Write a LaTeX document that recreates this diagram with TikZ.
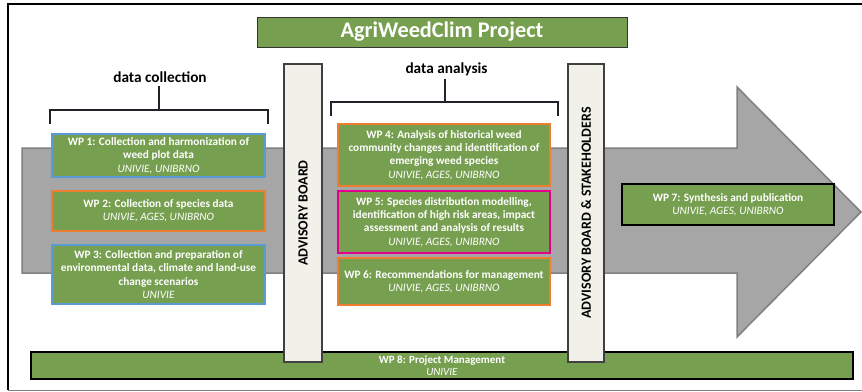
\documentclass[tikz,border=0pt]{standalone}
\usepackage{fontspec}
\setmainfont{Carlito}
\definecolor{wpgreen}{RGB}{119,159,80}
\definecolor{arrgray}{RGB}{166,166,166}
\definecolor{arredge}{RGB}{128,128,128}
\definecolor{wpblue}{RGB}{91,155,213}
\definecolor{wporange}{RGB}{237,125,49}
\definecolor{wpmag}{RGB}{226,0,140}
\definecolor{barfill}{RGB}{241,241,234}
\definecolor{baredge}{RGB}{64,64,64}
\definecolor{brk}{RGB}{34,34,40}
\tikzset{
  wpbox/.style={draw, line width=2.3pt, fill=wpgreen, text=white, inner sep=0pt, align=center,
    font=\fontsize{11.3}{13.3}\selectfont},
  barbox/.style={draw=baredge, line width=1.2pt, fill=barfill, inner sep=0pt, minimum width=38pt, minimum height=298pt},
  bartext/.style={rotate=90, font=\fontsize{14}{16}\selectfont\bfseries, text=black},
  bracket/.style={draw=brk, line width=2pt},
  headtext/.style={font=\fontsize{15.3}{17}\selectfont\bfseries, text=black}
}
\newcommand{\wpt}[2]{\textbf{#1}\\\textit{#2}}
\begin{document}
\begin{tikzpicture}[x=1pt,y=-1pt]
\useasboundingbox (0,0) rectangle (862,391);
% frame
\draw[black, line width=2.5pt] (862,4) -- (8,4) -- (8,390);
\draw[arredge, line width=1pt] (8,390) -- (862,390);
% big arrow
\draw[fill=arrgray, draw=arredge, line width=1.5pt, line join=miter]
  (22,148) -- (737,148) -- (737,87) -- (861,212) -- (737,337) -- (737,273) -- (22,273) -- cycle;
% title
\node[draw=black!80, line width=1pt, fill=wpgreen, text=white, minimum width=370pt, minimum height=30pt,
  inner sep=0pt, font=\fontsize{22.3}{24}\selectfont\bfseries] (title) at (442,32) {AgriWeedClim Project};
% headings
\node[headtext] (dc) at (160,77) {data collection};
\node[headtext] (da) at (446.5,69) {data analysis};
\coordinate (dcL) at (50,124);
\coordinate (dcR) at (268,124);
\coordinate (dcM) at (159,110);
\draw[bracket] (dcL) -- (50,110) -- (268,110) -- (dcR);
\draw[bracket] (dc.south -| dcM) -- (dcM);
\coordinate (daL) at (331,116);
\coordinate (daR) at (558,116);
\coordinate (daM) at (445,102);
\draw[bracket] (daL) -- (331,102) -- (558,102) -- (daR);
\draw[bracket] (da.south -| daM) -- (daM);
% WP8 (under the bars)
\node[wpbox, draw=black, line width=2.6pt, minimum width=822pt, minimum height=27pt,
  font=\fontsize{11}{12.6}\selectfont] (wp8) at (442,365.5) {\wpt{WP 8: Project Management}{UNIVIE}};
% left WPs
\node[wpbox, draw=wpblue, minimum width=213pt, minimum height=43pt] (wp1) at (158.5,155.5)
  {\textbf{WP 1: Collection and harmonization of}\\\textbf{weed plot data}\\\textit{UNIVIE, UNIBRNO}};
\node[wpbox, draw=wporange, minimum width=213pt, minimum height=40pt] (wp2) at (158.5,211)
  {\wpt{WP 2: Collection of species data}{UNIVIE, AGES, UNIBRNO}};
\node[wpbox, draw=wpblue, minimum width=213pt, minimum height=59pt] (wp3) at (158.5,274.5)
  {\textbf{WP 3: Collection and preparation of}\\\textbf{environmental data, climate and land-use}\\\textbf{change scenarios}\\\textit{UNIVIE}};
% middle WPs
\node[wpbox, draw=wporange, minimum width=212pt, minimum height=62pt] (wp4) at (444,155)
  {\textbf{WP 4: Analysis of historical weed}\\\textbf{community changes and identification of}\\\textbf{emerging weed species}\\\textit{UNIVIE, AGES, UNIBRNO}};
\node[wpbox, draw=wpmag, minimum width=212pt, minimum height=62pt] (wp5) at (444,222)
  {\textbf{WP 5: Species distribution modelling,}\\\textbf{identification of high risk areas, impact}\\\textbf{assessment and analysis of results}\\\textit{UNIVIE, AGES, UNIBRNO}};
\node[wpbox, draw=wporange, minimum width=212pt, minimum height=47pt] (wp6) at (444,281.5)
  {\wpt{WP 6: Recommendations for management}{UNIVIE, AGES, UNIBRNO}};
% WP7
\node[wpbox, draw=black, line width=2.6pt, minimum width=212pt, minimum height=41pt] (wp7) at (728,204.5)
  {\wpt{WP 7: Synthesis and publication}{UNIVIE, AGES, UNIBRNO}};
% bars
\node[barbox] (adv) at (303,213) {};
\node[bartext] at (adv.center) {ADVISORY BOARD};
\node[barbox, minimum width=36pt] (stk) at (586,213) {};
\node[bartext] at (stk.center) {ADVISORY BOARD \& STAKEHOLDERS};
\end{tikzpicture}
\end{document}
